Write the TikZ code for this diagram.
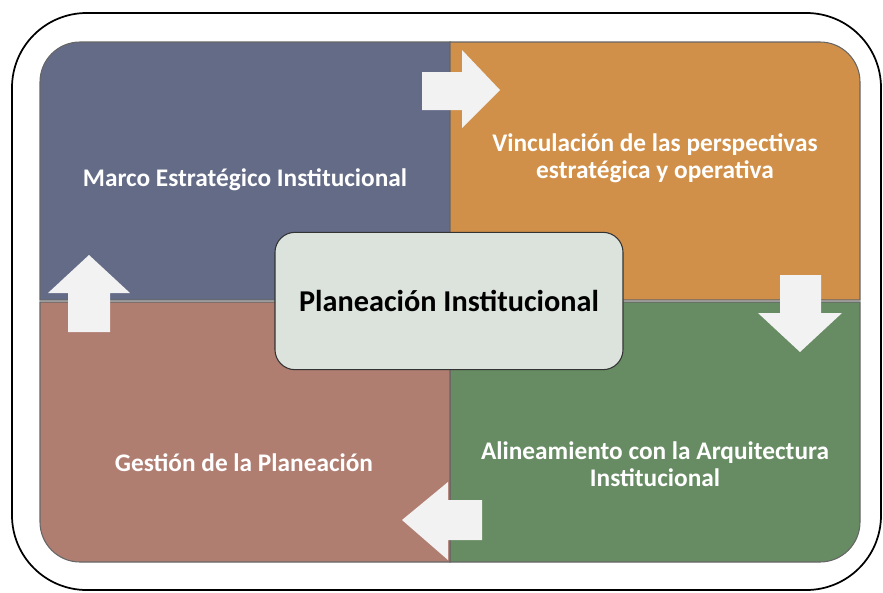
\documentclass[tikz,border=0pt]{standalone}
\usepackage{fontspec}
\setmainfont{Carlito}
\usetikzlibrary{positioning}

\definecolor{marco}{HTML}{646B87}
\definecolor{vinc}{HTML}{D19049}
\definecolor{gest}{HTML}{B07D71}
\definecolor{alin}{HTML}{678C63}
\definecolor{centro}{HTML}{DCE3DC}
\definecolor{flecha}{HTML}{F2F2F2}

\begin{document}
\begin{tikzpicture}[x=0.75pt, y=-0.75pt,
  quad/.style={draw=black!60, line width=0.8pt},
  txt/.style={text=white, font=\bfseries\fontsize{19}{20.5}\selectfont, align=center},
  flechita/.style={fill=flecha, draw=none}]

  \useasboundingbox (0,0) rectangle (883,593);
  \draw[line width=1.3pt, rounded corners=56pt] (12,13) rectangle (881,590);

  % cuadrantes
  \draw[quad, fill=marco] (40,300) [rounded corners=30pt] -- (40,42) [sharp corners] -- (450,42) -- (450,300) -- cycle;
  \draw[quad, fill=vinc] (450,42) [rounded corners=30pt] -- (860,42) [sharp corners] -- (860,300) -- (450,300) -- cycle;
  \draw[quad, fill=alin] (450,302) -- (860,302) [rounded corners=30pt] -- (860,562) [sharp corners] -- (450,562) -- cycle;
  \draw[quad, fill=gest] (450,302) -- (450,562) [rounded corners=30pt] -- (40,562) [sharp corners] -- (40,302) -- cycle;

  % flechas
  \fill[flechita] (422,72) -- (462,72) -- (462,50) -- (500,90) -- (462,128) -- (462,110) -- (422,110) -- cycle;
  \fill[flechita] (780,275) -- (821,275) -- (821,313) -- (842,313) -- (800,352) -- (758,313) -- (780,313) -- cycle;
  \fill[flechita] (482,500) -- (482,540) -- (448,540) -- (448,560) -- (402,520) -- (448,482) -- (448,500) -- cycle;
  \fill[flechita] (68,332) -- (68,293) -- (48,293) -- (89,255) -- (130,293) -- (110,293) -- (110,332) -- cycle;

  \node[txt] (marcoest) at (245,180) {Marco Estratégico Institucional};
  \node[txt] (vinculacion) at (655,158) {Vinculación de las perspectivas\\estratégica y operativa};
  \node[txt] (gestion) at (244,463) {Gestión de la Planeación};
  \node[txt] (alineamiento) at (655,464) {Alineamiento con la Arquitectura\\Institucional};

  \node[draw=black!80, line width=0.8pt, fill=centro, rounded corners=15pt,
    minimum width=261pt, minimum height=103pt,
    font=\bfseries\fontsize{22.7}{26}\selectfont] (planeacion) at (449,301) {Planeación Institucional};
\end{tikzpicture}
\end{document}
